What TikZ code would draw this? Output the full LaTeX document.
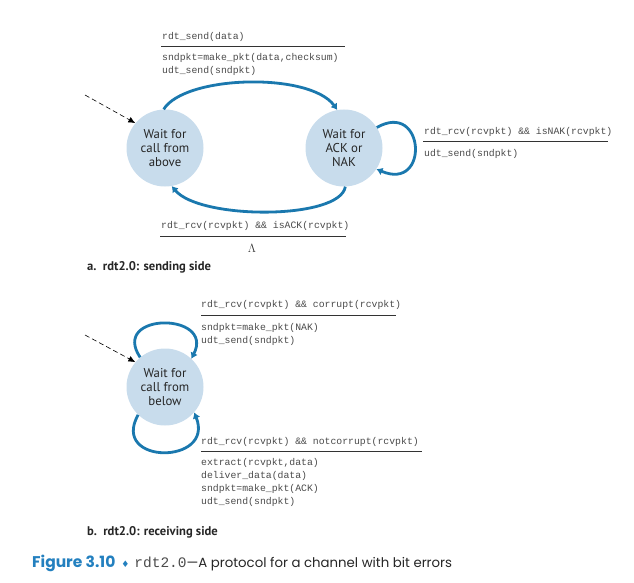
\documentclass[tikz,border=0pt]{standalone}
\usepackage{fontspec}
\setmainfont{PT Sans}
\setmonofont{Liberation Mono}
\newfontfamily\capfont{Poppins}
\newfontfamily\symfont{DejaVu Sans}
\usetikzlibrary{arrows.meta}
\definecolor{arcblue}{HTML}{1A78AE}
\definecolor{stfill}{HTML}{C8DCEC}
\definecolor{captblue}{HTML}{2380BF}
\definecolor{codegray}{HTML}{4A4A4A}
\tikzset{
  state/.style={circle,fill=stfill,minimum size=77pt,inner sep=0pt,align=center,
    font=\fontsize{12.8}{14}\selectfont,text=black!85},
  trans/.style={draw=arcblue,line width=2.8pt,-{Latex[length=6pt,width=8pt]}},
  initarr/.style={draw=black,dash pattern=on 5pt off 3pt,line width=0.6pt,-{Latex[length=7pt,width=6pt]}},
  code/.style={anchor=west,inner sep=0pt,font=\ttfamily\fontsize{9.8}{12}\selectfont,text=codegray},
  guard/.style={draw=black!80,line width=0.9pt},
  sublabel/.style={anchor=west,inner sep=0pt,font=\bfseries\fontsize{12.6}{14}\selectfont,text=black!85}
}
\begin{document}
\begin{tikzpicture}[x=1pt,y=-1pt]
\useasboundingbox (0,0) rectangle (634,583);
% ---------- sending side ----------
\node[state] (s1) at (165,148) {Wait for\\call from\\above};
\node[state] (s2) at (344,148) {Wait for\\ACK or\\NAK};
\coordinate (d1) at (85,95);
\draw[initarr] (d1) -- (s1.140);
\draw[trans] (s1.92) .. controls (185,75) and (310,72) .. (s2.100);
\draw[trans] (s2.272) .. controls (340,220) and (200,220) .. (s1.280);
\draw[trans] (s2.32) .. controls (425,100) and (430,192) .. (s2.327);

\node[code] (t1) at (162,37) {rdt\_send(data)};
\coordinate (g1a) at (161,46); \coordinate (g1b) at (345,46);
\draw[guard] (g1a) -- (g1b);
\node[code] (t2) at (162,58) {sndpkt=make\_pkt(data,checksum)};
\node[code] (t3) at (162,71) {udt\_send(sndpkt)};

\node[code] (r1) at (424,132) {rdt\_rcv(rcvpkt) \&\& isNAK(rcvpkt)};
\coordinate (g2a) at (423,141); \coordinate (g2b) at (608,141);
\draw[guard] (g2a) -- (g2b);
\node[code] (r2) at (424,154) {udt\_send(sndpkt)};

\node[code] (b1) at (161,226) {rdt\_rcv(rcvpkt) \&\& isACK(rcvpkt)};
\coordinate (g3a) at (160,236); \coordinate (g3b) at (346,236);
\draw[guard] (g3a) -- (g3b);
\node[inner sep=0pt,font=\fontsize{11.5}{12}\selectfont,text=black!80] (lam) at (252,248) {$\Lambda$};

\node[sublabel] (la) at (87,267) {a.\ \ rdt2.0: sending side};

% ---------- receiving side ----------
\node[state] (r) at (165,387) {Wait for\\call from\\below};
\coordinate (d2) at (85,335);
\draw[initarr] (d2) -- (r.140);
\draw[trans] (r.130) .. controls (110,312) and (215,312) .. (r.47);
\draw[trans] (r.226) .. controls (110,465) and (215,465) .. (r.319);

\node[code] (c1) at (201,305) {rdt\_rcv(rcvpkt) \&\& corrupt(rcvpkt)};
\coordinate (g4a) at (201,315); \coordinate (g4b) at (396,315);
\draw[guard] (g4a) -- (g4b);
\node[code] (c2) at (201,328) {sndpkt=make\_pkt(NAK)};
\node[code] (c3) at (201,341) {udt\_send(sndpkt)};

\node[code] (n1) at (201,442) {rdt\_rcv(rcvpkt) \&\& notcorrupt(rcvpkt)};
\coordinate (g5a) at (201,451); \coordinate (g5b) at (422,451);
\draw[guard] (g5a) -- (g5b);
\node[code] (n2) at (201,463) {extract(rcvpkt,data)};
\node[code] (n3) at (201,476) {deliver\_data(data)};
\node[code] (n4) at (201,489) {sndpkt=make\_pkt(ACK)};
\node[code] (n5) at (201,502) {udt\_send(sndpkt)};

\node[sublabel] (lb) at (87,532) {b.\ \ rdt2.0: receiving side};

% ---------- caption ----------
\node[anchor=west,inner sep=0pt] (cap) at (32,563)
  {{\capfont\bfseries\fontsize{15.5}{17}\selectfont\color{captblue}Figure 3.10}\hspace{6pt}{\symfont\fontsize{9}{10}\selectfont\color{captblue}♦}\hspace{5pt}{\ttfamily\fontsize{14.5}{16}\selectfont\color{black!70}rdt2.0}{\capfont\fontsize{13.3}{16}\selectfont\color{black!85}—A protocol for a channel with bit errors}};
\end{tikzpicture}
\end{document}
